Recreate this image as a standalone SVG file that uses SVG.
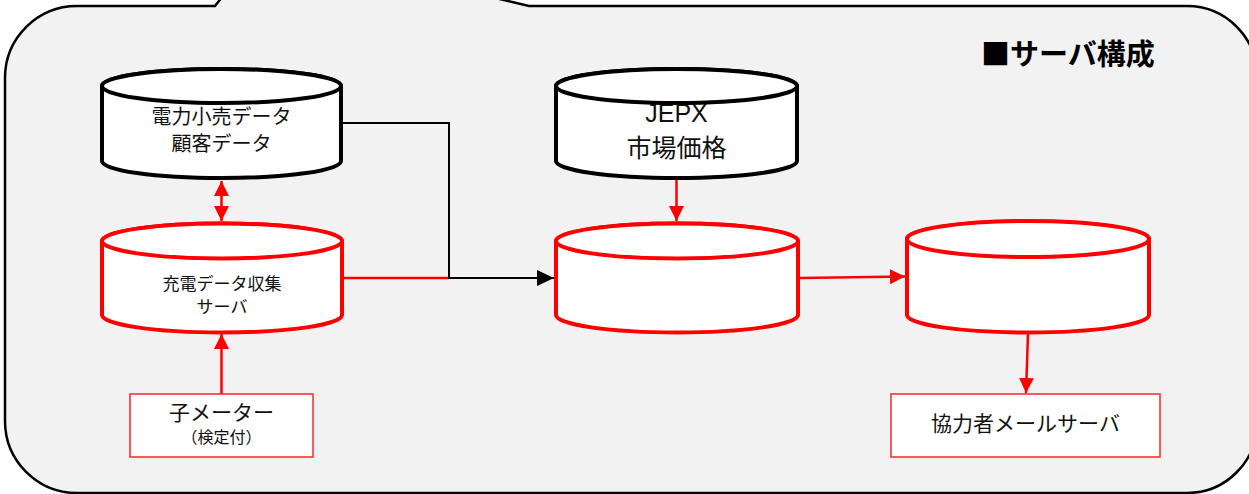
<svg xmlns="http://www.w3.org/2000/svg" width="1249" height="494" viewBox="0 0 1249 494">
<style>
  text { font-family: "Noto Sans CJK JP", "Noto Sans", sans-serif; fill: #111; text-anchor: middle; }
  .lat { font-family: "Liberation Sans", "Noto Sans CJK JP", sans-serif; }
  .cyl-k { fill: #fff; stroke: #000; stroke-width: 4; }
  .cyl-r { fill: #fff; stroke: #ff0000; stroke-width: 4; }
  .box { fill: #fff; stroke: #ff3030; stroke-width: 1.6; }
  .cr { fill: none; stroke: #ff0000; stroke-width: 2.5; }
  .ck { fill: none; stroke: #000; stroke-width: 2; }
</style>
<defs>
  <marker id="ar" markerUnits="userSpaceOnUse" markerWidth="16" markerHeight="16" refX="15" refY="8" orient="auto-start-reverse">
    <path d="M0,0.5 L15,8 L0,15.5 z" fill="#ff0000"/>
  </marker>
  <marker id="ak" markerUnits="userSpaceOnUse" markerWidth="18" markerHeight="18" refX="17" refY="9" orient="auto">
    <path d="M0,1 L17,9 L0,17 z" fill="#000"/>
  </marker>
</defs>

<g id="frame">
  <path d="M77,6 L215,6 L226,-8 L470,-8 L529,6 L1187,6 A70 70 0 0 1 1257,76 L1257,423 A70 70 0 0 1 1187,493 L77,493 A72 72 0 0 1 5,421 L5,78 A72 72 0 0 1 77,6 Z" fill="#f2f2f2" stroke="#000" stroke-width="2.5"/>
  <text x="981" y="65" style="text-anchor:start;font-weight:bold;font-size:29px;fill:#000">■サーバ構成</text>
</g>

<g id="connectors">
  <line class="cr" x1="221.5" y1="181" x2="221.5" y2="221" marker-start="url(#ar)" marker-end="url(#ar)"/>
  <line class="cr" x1="344" y1="278" x2="449" y2="278"/>
  <polyline class="ck" points="343,123 449,123 449,278 554,278" marker-end="url(#ak)"/>
  <line class="cr" x1="676.5" y1="180" x2="676.5" y2="221" marker-end="url(#ar)"/>
  <line class="cr" x1="800" y1="278" x2="905" y2="276.5" marker-end="url(#ar)"/>
  <line class="cr" x1="1028" y1="334" x2="1026" y2="393" marker-end="url(#ar)"/>
  <line class="cr" x1="221.5" y1="394" x2="221.5" y2="334" marker-end="url(#ar)"/>
</g>

<g id="db-retail">
  <path class="cyl-k" d="M102,86 L102,161 A119.5 17 0 0 0 341,161 L341,86 A119.5 17 0 0 0 102,86 Z"/>
  <ellipse class="cyl-k" cx="221.5" cy="86" rx="119.5" ry="17"/>
  <text x="221.5" y="124" font-size="20">電力小売データ</text>
  <text x="221.5" y="151" font-size="20">顧客データ</text>
</g>

<g id="db-charge">
  <path class="cyl-r" d="M102,241 L102,315 A120 17.5 0 0 0 342,315 L342,241 A120 17.5 0 0 0 102,241 Z"/>
  <ellipse class="cyl-r" cx="222" cy="241" rx="120" ry="17.5"/>
  <text x="222" y="290" font-size="17">充電データ収集</text>
  <text x="222" y="313" font-size="17">サーバ</text>
</g>

<g id="db-jepx">
  <path class="cyl-k" d="M556,86 L556,161 A120.5 17 0 0 0 797,161 L797,86 A120.5 17 0 0 0 556,86 Z"/>
  <text class="lat" x="676.5" y="122" font-size="25">JEPX</text>
  <text x="676.5" y="157" font-size="25">市場価格</text>
  <ellipse class="cyl-k" cx="676.5" cy="86" rx="120.5" ry="17"/>
</g>

<g id="db-middle">
  <path class="cyl-r" d="M556,241 L556,315 A121 17.5 0 0 0 798,315 L798,241 A121 17.5 0 0 0 556,241 Z"/>
  <ellipse class="cyl-r" cx="677" cy="241" rx="121" ry="17.5"/>
</g>

<g id="db-right">
  <path class="cyl-r" d="M907,239 L907,315 A121 17.5 0 0 0 1149,315 L1149,239 A121 17.5 0 0 0 907,239 Z"/>
  <ellipse class="cyl-r" cx="1028" cy="239" rx="121" ry="18"/>
</g>

<g id="box-meter">
  <rect class="box" x="130" y="394" width="183" height="63"/>
  <text x="221.5" y="420" font-size="21">子メーター</text>
  <text x="221.5" y="443" font-size="16">（検定付）</text>
</g>

<g id="box-mail">
  <rect class="box" x="891" y="394" width="269" height="63"/>
  <text x="1025.5" y="431" font-size="21">協力者メールサーバ</text>
</g>
</svg>
